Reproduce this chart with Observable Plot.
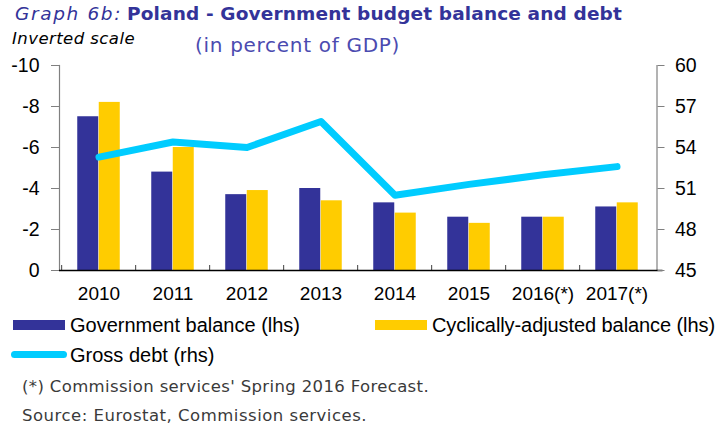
<!DOCTYPE html>
<html><head><meta charset="utf-8">
<script src="https://cdn.jsdelivr.net/npm/d3@7"></script>
<script src="https://cdn.jsdelivr.net/npm/@observablehq/plot@0.6"></script>
<style>
body{margin:0;background:#fff;}
#c{position:relative;width:718px;height:427px;overflow:hidden;background:#fff;}
#c svg{position:absolute;left:0;top:0;}
.t{position:absolute;white-space:nowrap;line-height:1;}
.sw{position:absolute;}
</style></head><body><div id="c"></div>
<script>
const years = ["2010","2011","2012","2013","2014","2015","2016(*)","2017(*)"];
const govBalance = [-7.5,-4.8,-3.7,-4.0,-3.3,-2.6,-2.6,-3.1];
const cycAdjBalance = [-8.2,-6.0,-3.9,-3.4,-2.8,-2.3,-2.6,-3.3];
const grossDebt = [53.3,54.4,54.0,55.9,50.5,51.3,52.0,52.6];
const leftTicks = [0,-2,-4,-6,-8,-10];
const rightTicks = [45,48,51,54,57,60];

const W=718,H=427,mL=59,mR=61.5,mT=65,mB=157;
const step=(W-mL-mR)/years.length;
const barW=21.5;
const pad=1-barW/step;
const toLeft = v => -(v-45)*10/15;
const fromLeft = d => Math.round(45 - d*1.5);
const data = years.map((year,i)=>({year, gov:govBalance[i], cab:cycAdjBalance[i], debt:toLeft(grossDebt[i])}));

const chart = Plot.plot({
  width:W,height:H,marginLeft:mL,marginRight:mR,marginTop:mT,marginBottom:mB,
  style:{fontFamily:"'Liberation Sans', Arial, sans-serif", color:"#000", background:"transparent", overflow:"visible"},
  x:{domain:years, paddingInner:pad, paddingOuter:pad/2, axis:null, label:null},
  y:{domain:[0,-10], axis:null, label:null},
  marks:[
    Plot.barY(data,{x:"year",y:"gov",fill:"#333399",dx:-barW/2}),
    Plot.barY(data,{x:"year",y:"cab",fill:"#FFCC00",dx:barW/2}),
    Plot.line(data,{x:"year",y:"debt",stroke:"#00CCFF",strokeWidth:7,strokeLinecap:"round",strokeLinejoin:"round"}),
    Plot.ruleX(years,{x:d=>d,dx:-step/2,insetTop:(H-mT-mB)-5,stroke:"#404040"}),
    Plot.frame({anchor:"left",stroke:"#808080",strokeWidth:1.2}),
    Plot.frame({anchor:"right",stroke:"#808080",strokeWidth:1.2}),
    Plot.ruleY([0],{stroke:"#000",strokeWidth:1.3,insetRight:-6}),
    Plot.axisY(leftTicks,{anchor:"left",label:null,tickSize:8,tickPadding:12,fontSize:19.5,stroke:"#808080",fill:"#000",tickFormat:d=>String(d)}),
    Plot.axisY(rightTicks.map(toLeft),{anchor:"right",label:null,tickSize:7,tickPadding:11,fontSize:19.5,stroke:"#808080",fill:"#000",tickFormat:d=>String(fromLeft(d))}),
    Plot.axisX({anchor:"bottom",label:null,tickSize:0,tickPadding:16,fontSize:19,fill:"#000"})
  ]
});
const c=document.getElementById("c");
c.appendChild(chart);

function txt(s,o){
  const d=document.createElement("div");
  d.className="t"; d.textContent=s;
  d.style.left=o.x+"px";
  d.style.top=(o.baseline-0.846*o.size)+"px";
  d.style.fontSize=o.size+"px";
  d.style.fontFamily=o.family||"'DejaVu Sans', sans-serif";
  d.style.fontStyle=o.style||"normal";
  d.style.fontWeight=o.weight||"normal";
  d.style.color=o.color||"#000";
  c.appendChild(d);
  if(o.width){
    const w=d.getBoundingClientRect().width;
    d.style.letterSpacing=((o.width-w)/s.length)+"px";
  }
  return d;
}
function sw(x,y,w,h,color,r){
  const d=document.createElement("div");
  d.className="sw";
  Object.assign(d.style,{left:x+"px",top:y+"px",width:w+"px",height:h+"px",background:color,borderRadius:(r||0)+"px"});
  c.appendChild(d);
}
const navy="#333399";
txt("Graph 6b:",{x:15,baseline:21,size:18.5,style:"italic",color:navy,width:107});
txt("Poland - Government budget balance and debt",{x:127,baseline:21,size:18.5,weight:"bold",color:navy,width:495});
txt("Inverted scale",{x:12,baseline:45,size:16.5,style:"italic",color:"#000",width:123});
txt("(in percent of GDP)",{x:195,baseline:52,size:20,color:"#4b4bb0",width:205});

const lf="'Liberation Sans', Arial, sans-serif";
sw(13,320,52,10,"#333399");
txt("Government balance (lhs)",{x:70,baseline:332,size:20,family:lf,width:230});
sw(375,320,52,10,"#FFCC00");
txt("Cyclically-adjusted balance (lhs)",{x:432,baseline:332,size:20,family:lf,width:283});
sw(11,350.5,56,7,"#00CCFF",3.5);
txt("Gross debt (rhs)",{x:70,baseline:362,size:20,family:lf});

txt("(*) Commission services' Spring 2016 Forecast.",{x:22,baseline:393,size:16.5,color:"#3a3a3a",width:407});
txt("Source: Eurostat, Commission services.",{x:22,baseline:421.5,size:16.5,color:"#3a3a3a",width:345});
</script></body></html>
